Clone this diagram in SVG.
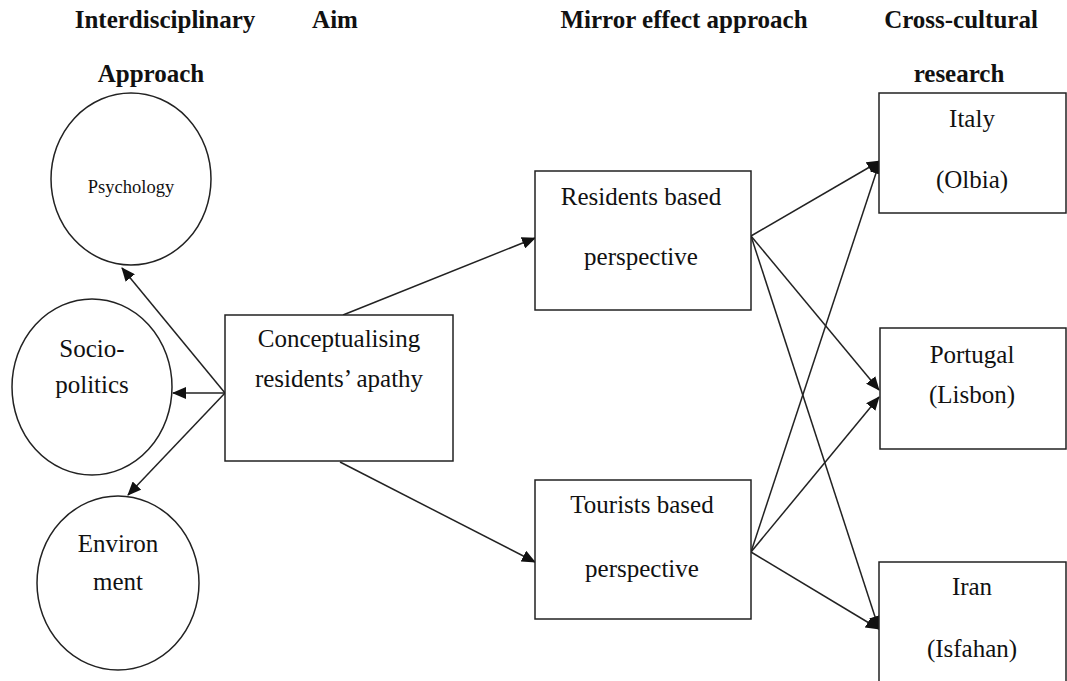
<svg xmlns="http://www.w3.org/2000/svg" width="1067" height="681" viewBox="0 0 1067 681">
<style>
.hd{font-family:"Liberation Serif","Times New Roman",serif;font-weight:bold;font-size:25px;fill:#111;text-anchor:middle}
.tx{font-family:"Liberation Serif","Times New Roman",serif;font-size:25px;fill:#111;text-anchor:middle}
.sm{font-family:"Liberation Serif","Times New Roman",serif;font-size:18.5px;fill:#111;text-anchor:middle}
.shape{fill:#fff;stroke:#222;stroke-width:1.5}
.conn{stroke:#222;stroke-width:1.5;fill:none;marker-end:url(#ah)}
</style>
<defs>
<marker id="ah" markerUnits="userSpaceOnUse" markerWidth="14" markerHeight="12" refX="13" refY="6" orient="auto">
<path d="M0,0 L14,6 L0,12 z" fill="#111"/>
</marker>
</defs>
<rect width="1067" height="681" fill="#fff"/>
<g id="headers">
<text class="hd" x="165" y="28">Interdisciplinary</text>
<text class="hd" x="151" y="82">Approach</text>
<text class="hd" x="335" y="28">Aim</text>
<text class="hd" x="684" y="28">Mirror effect approach</text>
<text class="hd" x="961" y="28">Cross-cultural</text>
<text class="hd" x="959" y="82">research</text>
</g>
<g id="connectors">
<line class="conn" x1="225" y1="393" x2="122" y2="268"/>
<line class="conn" x1="225" y1="393" x2="173" y2="393"/>
<line class="conn" x1="225" y1="393" x2="128" y2="495"/>
<line class="conn" x1="343" y1="315" x2="535" y2="238"/>
<line class="conn" x1="340" y1="462" x2="535" y2="562"/>
<line class="conn" x1="751" y1="236" x2="880" y2="161"/>
<line class="conn" x1="751" y1="236" x2="879" y2="390"/>
<line class="conn" x1="751" y1="236" x2="879" y2="629"/>
<line class="conn" x1="751" y1="552" x2="880" y2="161"/>
<line class="conn" x1="751" y1="552" x2="879" y2="397"/>
<line class="conn" x1="751" y1="552" x2="879" y2="629"/>
</g>
<g id="psychology">
<ellipse class="shape" cx="131" cy="179" rx="80" ry="86"/>
<text class="sm" x="131" y="193">Psychology</text>
</g>
<g id="sociopolitics">
<ellipse class="shape" cx="92" cy="387" rx="80" ry="88"/>
<text class="tx" x="92" y="357">Socio-</text>
<text class="tx" x="92" y="393">politics</text>
</g>
<g id="environment">
<ellipse class="shape" cx="118" cy="583" rx="81" ry="87"/>
<text class="tx" x="118" y="552">Environ</text>
<text class="tx" x="118" y="590">ment</text>
</g>
<g id="conceptualising">
<rect class="shape" x="225" y="315" width="228" height="146"/>
<text class="tx" x="339" y="347">Conceptualising</text>
<text class="tx" x="339" y="387">residents’ apathy</text>
</g>
<g id="residents">
<rect class="shape" x="535" y="171" width="216" height="139"/>
<text class="tx" x="641" y="205">Residents based</text>
<text class="tx" x="641" y="265">perspective</text>
</g>
<g id="tourists">
<rect class="shape" x="535" y="480" width="216" height="139"/>
<text class="tx" x="642" y="513">Tourists based</text>
<text class="tx" x="642" y="577">perspective</text>
</g>
<g id="italy">
<rect class="shape" x="879" y="93" width="187" height="120"/>
<text class="tx" x="972" y="127">Italy</text>
<text class="tx" x="972" y="188">(Olbia)</text>
</g>
<g id="portugal">
<rect class="shape" x="880" y="328" width="186" height="121"/>
<text class="tx" x="972" y="363">Portugal</text>
<text class="tx" x="972" y="403">(Lisbon)</text>
</g>
<g id="iran">
<rect class="shape" x="879" y="562" width="187" height="130"/>
<text class="tx" x="972" y="595">Iran</text>
<text class="tx" x="972" y="657">(Isfahan)</text>
</g>
</svg>
